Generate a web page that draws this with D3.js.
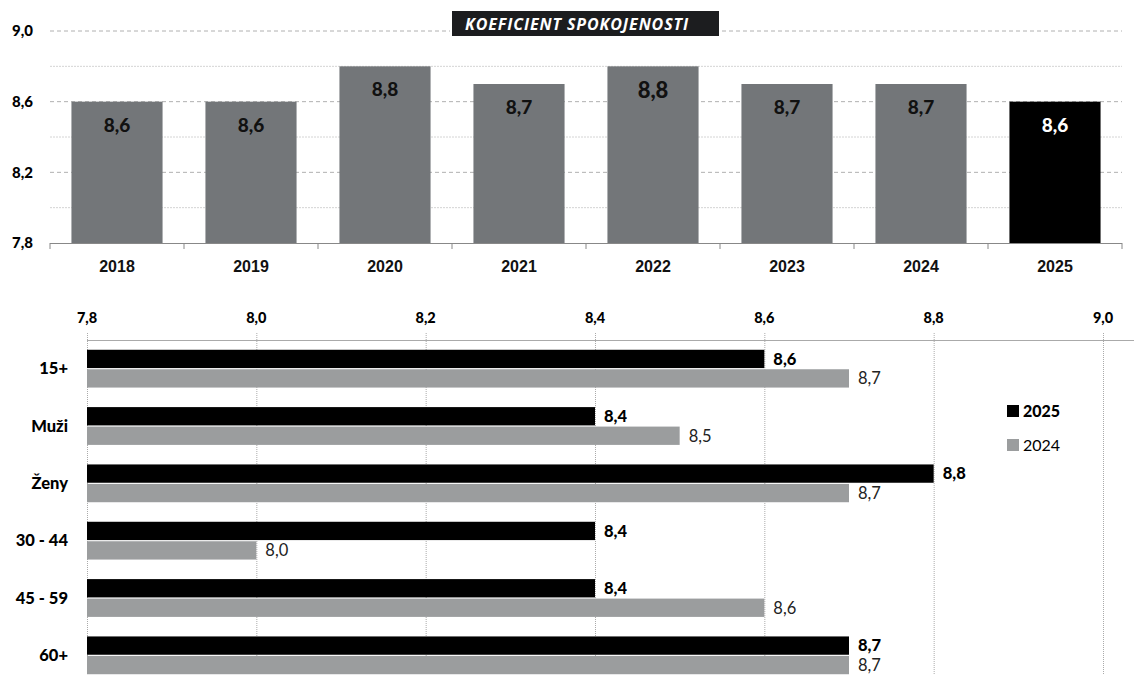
<!DOCTYPE html>
<html>
<head>
<meta charset="utf-8">
<script src="https://cdn.jsdelivr.net/npm/d3@7"></script>
<style>
  body { margin: 0; background: #fff; }
  svg { display: block; }
</style>
</head>
<body>
<div id="chart"></div>
<script>
// top chart data
var years = ['2018', '2019', '2020', '2021', '2022', '2023', '2024', '2025']
var yearValues = [8.6, 8.6, 8.8, 8.7, 8.8, 8.7, 8.7, 8.6]
var topTicks = [7.8, 8.2, 8.6, 9.0]
var topMinor = [8.0, 8.4, 8.8]

// bottom chart data
var groups = ['15+', 'Muži', 'Ženy', '30 - 44', '45 - 59', '60+']
var series = ['2025', '2024']
var values2025 = [8.6, 8.4, 8.8, 8.4, 8.4, 8.7]
var values2024 = [8.7, 8.5, 8.7, 8.0, 8.6, 8.7]
var bottomTicks = [7.8, 8.0, 8.2, 8.4, 8.6, 8.8, 9.0]

var title = 'KOEFICIENT SPOKOJENOSTI'

var width = 1134
var height = 675
var fmt = function(d) { return d3.format('.1f')(d).replace('.', ',') }
var calibri = 'Lato, "Open Sans", sans-serif'
var arial = '"Liberation Sans", Arial, sans-serif'

var svg = d3
  .select('#chart')
  .append('svg')
  .attr('width', width)
  .attr('height', height)

// ---------- top chart ----------
var topChart = svg.append('g').attr('class', 'top-chart')

var xTop = d3.scaleBand().domain(years).range([50, 1122]).paddingInner(0.32).paddingOuter(0.16)
var yTop = d3.scaleLinear().domain([7.8, 9.0]).range([243, 31])

topChart.selectAll('.minor')
  .data(topMinor)
  .enter()
  .append('line')
  .attr('class', 'minor')
  .attr('x1', 50)
  .attr('x2', 1122)
  .attr('y1', d => yTop(d))
  .attr('y2', d => yTop(d))
  .attr('stroke', '#d4d4d4')
  .attr('stroke-dasharray', '2,1')

topChart.selectAll('.major')
  .data(topTicks.filter(d => d > 7.8))
  .enter()
  .append('line')
  .attr('class', 'major')
  .attr('x1', 50)
  .attr('x2', 1122)
  .attr('y1', d => yTop(d))
  .attr('y2', d => yTop(d))
  .attr('stroke', '#b0b0b0')
  .attr('stroke-dasharray', '4,3')

topChart.selectAll('.ylab')
  .data(topTicks)
  .enter()
  .append('text')
  .attr('class', 'ylab')
  .attr('x', 33)
  .attr('y', d => yTop(d))
  .attr('dy', '0.35em')
  .attr('text-anchor', 'end')
  .attr('font-family', calibri)
  .attr('font-weight', 900)
  .attr('font-size', 15)
  .text(fmt)

topChart.selectAll('.bar')
  .data(years)
  .enter()
  .append('rect')
  .attr('class', 'bar')
  .attr('x', d => xTop(d))
  .attr('width', xTop.bandwidth())
  .attr('y', (d, i) => yTop(yearValues[i]))
  .attr('height', (d, i) => yTop(7.8) - yTop(yearValues[i]))
  .attr('fill', (d, i) => (i === years.length - 1 ? '#000' : '#737679'))

topChart.selectAll('.val')
  .data(years)
  .enter()
  .append('text')
  .attr('class', 'val')
  .attr('x', d => xTop(d) + xTop.bandwidth() / 2)
  .attr('y', (d, i) => yTop(yearValues[i]) + (d === '2022' ? 32 : 30))
  .attr('text-anchor', 'middle')
  .attr('font-family', calibri)
  .attr('font-weight', 900)
  .attr('font-size', d => (d === '2022' ? 22 : 19))
  .attr('fill', (d, i) => (i === years.length - 1 ? '#fff' : '#111'))
  .text((d, i) => fmt(yearValues[i]))

// x axis
var xAxisTop = topChart.append('g')
xAxisTop.append('line')
  .attr('x1', 50).attr('x2', 1122)
  .attr('y1', 243.5).attr('y2', 243.5)
  .attr('stroke', '#888')
xAxisTop.selectAll('.tk')
  .data(years.concat(['end']))
  .enter()
  .append('line')
  .attr('x1', (d, i) => 50 + i * xTop.step())
  .attr('x2', (d, i) => 50 + i * xTop.step())
  .attr('y1', 243)
  .attr('y2', 249)
  .attr('stroke', '#888')

xAxisTop.selectAll('.xlab')
  .data(years)
  .enter()
  .append('text')
  .attr('x', d => xTop(d) + xTop.bandwidth() / 2)
  .attr('y', 272)
  .attr('text-anchor', 'middle')
  .attr('font-family', arial)
  .attr('font-weight', 700)
  .attr('font-size', 16)
  .attr('fill', '#111')
  .text(d => d)

// title box
topChart.append('rect')
  .attr('x', 450).attr('y', 10)
  .attr('width', 272).attr('height', 27)
  .attr('fill', '#fff')
topChart.append('rect')
  .attr('x', 452).attr('y', 11)
  .attr('width', 267).attr('height', 25)
  .attr('fill', '#1c1d1f')
topChart.append('text')
  .attr('x', 465).attr('y', 29.5)
  .attr('font-family', '"Open Sans", sans-serif')
  .attr('font-style', 'italic')
  .attr('font-weight', 700)
  .attr('font-size', 16)
  .attr('letter-spacing', 0.9)
  .attr('fill', '#fff')
  .text(title)

// ---------- bottom chart ----------
var bottom = svg.append('g').attr('class', 'bottom-chart')

var xBot = d3.scaleLinear().domain([7.8, 9.0]).range([87, 1103])
var yBot = d3.scaleBand().domain(groups).range([340, 684]).paddingInner(0.3).paddingOuter(0.15)
var ySub = d3.scaleBand().domain(series).range([0, yBot.bandwidth()]).padding(0.06)

bottom.selectAll('.vgrid')
  .data(bottomTicks)
  .enter()
  .append('line')
  .attr('x1', d => xBot(d) + 0.5)
  .attr('x2', d => xBot(d) + 0.5)
  .attr('y1', 333)
  .attr('y2', height)
  .attr('stroke', '#aaa')
  .attr('stroke-dasharray', '1,1')

bottom.append('line')
  .attr('x1', 87).attr('x2', width)
  .attr('y1', 340.5).attr('y2', 340.5)
  .attr('stroke', '#aaa')

bottom.selectAll('.xlab')
  .data(bottomTicks)
  .enter()
  .append('text')
  .attr('x', d => xBot(d))
  .attr('y', 323)
  .attr('text-anchor', 'middle')
  .attr('font-family', calibri)
  .attr('font-weight', 900)
  .attr('font-size', 14.5)
  .text(fmt)

bottom.selectAll('.glab')
  .data(groups)
  .enter()
  .append('text')
  .attr('x', 68)
  .attr('y', d => yBot(d) + yBot.bandwidth() / 2)
  .attr('dy', '0.35em')
  .attr('text-anchor', 'end')
  .attr('font-family', calibri)
  .attr('font-weight', 900)
  .attr('font-size', 16.5)
  .text(d => d)

var seriesData = [
  { key: '2025', values: values2025, color: '#000', weight: 900 },
  { key: '2024', values: values2024, color: '#9b9d9e', weight: 400 }
]

seriesData.forEach(s => {
  bottom.selectAll('.bar-' + s.key)
    .data(groups)
    .enter()
    .append('rect')
    .attr('x', xBot(7.8))
    .attr('y', d => yBot(d) + ySub(s.key))
    .attr('width', (d, i) => xBot(s.values[i]) - xBot(7.8))
    .attr('height', ySub.bandwidth())
    .attr('fill', s.color)

  bottom.selectAll('.lab-' + s.key)
    .data(groups)
    .enter()
    .append('text')
    .attr('x', (d, i) => xBot(s.values[i]) + 9)
    .attr('y', d => yBot(d) + ySub(s.key) + ySub.bandwidth() / 2)
    .attr('dy', '0.35em')
    .attr('font-family', calibri)
    .attr('font-weight', s.weight)
    .attr('font-size', 16.5)
    .attr('fill', s.key === '2025' ? '#000' : '#222')
    .text((d, i) => fmt(s.values[i]))
})

// legend
var legend = bottom.selectAll('.legend')
  .data(seriesData)
  .enter()
  .append('g')
  .attr('transform', (d, i) => 'translate(1007,' + (405 + i * 34) + ')')
legend.append('rect')
  .attr('width', 12).attr('height', 12)
  .attr('fill', d => d.color)
legend.append('text')
  .attr('x', 16).attr('y', 6)
  .attr('dy', '0.35em')
  .attr('font-family', calibri)
  .attr('font-weight', d => d.weight)
  .attr('font-size', 16)
  .text(d => d.key)
</script>
</body>
</html>
